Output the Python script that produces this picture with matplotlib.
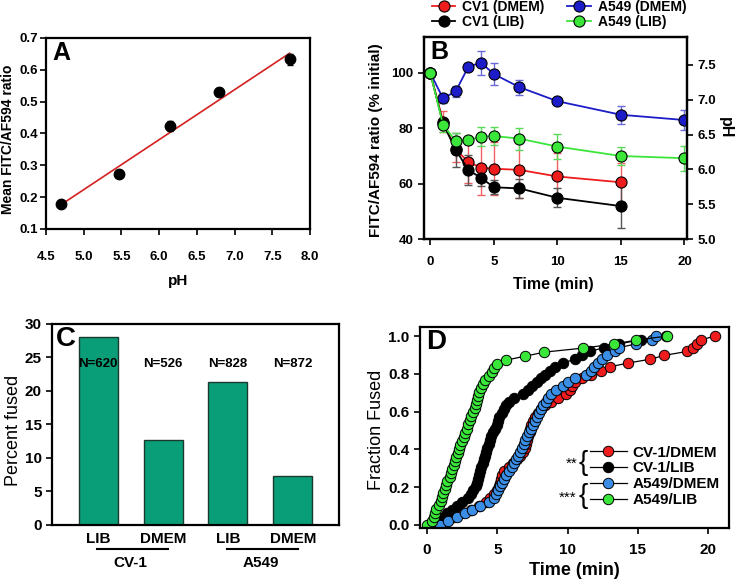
import numpy as np
import matplotlib
matplotlib.use('Agg')
import matplotlib.pyplot as plt
from matplotlib.lines import Line2D
import matplotlib.transforms as mtransforms

plt.rcParams['font.family'] = ['Liberation Sans', 'DejaVu Sans']
plt.rcParams['font.weight'] = 'bold'
plt.rcParams['axes.linewidth'] = 1.6
plt.rcParams['xtick.direction'] = 'out'
plt.rcParams['ytick.direction'] = 'out'

# ---- Panel A: pH calibration
ph_cal = [4.70, 5.47, 6.15, 6.80, 7.73]
ratio_cal = [0.178, 0.272, 0.423, 0.530, 0.633]
ratio_err = [0.006, 0.006, 0.016, 0.013, 0.018]

# ---- Panel B: ratio over time
time_b = [0, 1, 2, 3, 4, 5, 7, 10, 15, 20]
cv1_dmem = [100, 82.4, 72.4, 67.8, 65.8, 65.4, 65.0, 62.6, 60.5]
cv1_dmem_err = [0, 3.8, 4.5, 7.5, 10.0, 9.5, 10.0, 8.5, 7.0]
cv1_lib = [100, 81.8, 72.2, 64.9, 62.1, 58.7, 58.3, 54.9, 51.9]
cv1_lib_err = [0, 1.5, 6.0, 5.5, 3.0, 2.5, 3.5, 3.5, 8.0]
a549_dmem = [100, 90.8, 93.4, 102.3, 103.7, 99.6, 94.9, 89.8, 84.9, 83.0]
a549_dmem_err = [0, 1.6, 2.0, 1.0, 4.4, 3.9, 2.7, 0.5, 3.2, 3.5]
a549_lib = [100, 81.3, 75.4, 75.7, 77.0, 77.2, 76.3, 73.4, 70.0, 69.2]
a549_lib_err = [0, 2.5, 3.0, 1.0, 3.5, 3.4, 4.0, 4.6, 3.4, 4.5]

# ---- Panel C: percent fused
groups_c = ['LIB', 'DMEM', 'LIB', 'DMEM']
fused_pct = [28.0, 12.7, 21.3, 7.3]
n_cells = ['N=620', 'N=526', 'N=828', 'N=872']
cell_lines = ['CV-1', 'A549']

# ---- Panel D: fusion times (min), cumulative
t_cv1_dmem = [1.0, 1.4, 1.9, 2.4, 3.1, 3.7, 4.2, 4.5, 4.8, 5.0,
              5.1, 5.2, 5.25, 5.3, 5.5, 5.85, 6.15, 6.4, 6.6, 6.8,
              6.95, 7.05, 7.15, 7.22, 7.3, 7.35, 7.42, 7.55, 7.7, 7.9,
              8.1, 8.4, 8.8, 9.3, 9.9, 10.2, 10.35, 10.5, 11.0, 11.7,
              12.4, 13.0, 14.3, 15.9, 16.9, 18.5, 18.9, 19.2, 19.5, 20.5]
t_cv1_lib = [0.75, 1.0, 1.2, 1.45, 1.8, 2.1, 2.5, 2.9, 3.1, 3.3,
             3.45, 3.55, 3.65, 3.72, 3.8, 3.87, 3.95, 4.05, 4.12, 4.2,
             4.3, 4.4, 4.5, 4.58, 4.7, 4.85, 4.95, 5.05, 5.15, 5.3,
             5.45, 5.6, 5.85, 6.2, 6.8, 7.2, 7.5, 7.8, 8.1, 8.4,
             8.75, 9.1, 9.7, 10.5, 11.0, 11.6, 12.6, 13.7, 15.2, 17.0]
t_a549_dmem = [0.95, 1.5, 2.1, 2.7, 3.2, 3.8, 4.4, 4.75, 4.9, 5.05,
               5.2, 5.35, 5.5, 5.65, 5.85, 6.05, 6.2, 6.35, 6.5, 6.6,
               6.75, 6.9, 7.0, 7.1, 7.25, 7.4, 7.55, 7.65, 7.8, 7.95,
               8.1, 8.25, 8.45, 8.6, 8.8, 9.2, 9.7, 10.0, 10.5, 11.3,
               11.7, 11.9, 12.2, 12.45, 12.8, 13.4, 13.7, 14.9, 16.0, 16.3]
t_a549_lib = [0.0, 0.35, 0.5, 0.55, 0.65, 0.85, 0.98, 1.08, 1.15, 1.25,
              1.33, 1.45, 1.6, 1.72, 1.8, 1.9, 1.97, 2.08, 2.2, 2.28,
              2.38, 2.5, 2.6, 2.7, 2.82, 2.95, 3.07, 3.15, 3.25, 3.38,
              3.45, 3.55, 3.65, 3.72, 3.85, 4.0, 4.15, 4.4, 4.6, 4.8,
              4.95, 5.6, 7.0, 8.35, 11.1, 13.3, 14.9, 17.1]

RED = '#ee1c1c'
BLUE = '#1c1cc8'
GREEN = '#3ae63a'
LBLUE = '#3a8ee6'
TEAL = '#0a9e78'

fig = plt.figure(figsize=(7.45, 5.81), dpi=100)
axA = fig.add_axes([0.0617, 0.6059, 0.3544, 0.3287])
axB = fig.add_axes([0.5691, 0.5886, 0.3530, 0.3477])
axC = fig.add_axes([0.0698, 0.0964, 0.3852, 0.3460])
axD = fig.add_axes([0.5638, 0.0912, 0.4148, 0.3460])

tick_fs = 9.5

# Panel A
fit = np.polyfit(ph_cal, ratio_cal, 1)
xfit = np.array([min(ph_cal), max(ph_cal)])
axA.plot(xfit, np.polyval(fit, xfit), color='#d42020', lw=1.2, zorder=2)
axA.errorbar(ph_cal, ratio_cal, yerr=ratio_err, fmt='o', color='black',
             ms=7.5, capsize=2.5, elinewidth=0.8, zorder=3)
axA.set_xlim(4.5, 8.0)
axA.set_ylim(0.1, 0.7)
axA.set_xticks(np.arange(4.5, 8.01, 0.5))
axA.set_yticks(np.arange(0.1, 0.71, 0.1))
axA.set_xticklabels(['%.1f' % v for v in np.arange(4.5, 8.01, 0.5)])
axA.set_yticklabels(['%.1f' % v for v in np.arange(0.1, 0.71, 0.1)])
axA.tick_params(labelsize=tick_fs, length=4, width=1.2)
axA.tick_params(axis='y', pad=2)
axA.tick_params(axis='x', pad=12)
axA.set_xlabel('pH', fontsize=11, fontweight='bold')
axA.xaxis.set_label_coords(0.5, -0.236)
axA.set_ylabel('Mean FITC/AF594 ratio', fontsize=10, fontweight='bold')
axA.yaxis.set_label_coords(-0.118, 0.47)
axA.text(0.025, 0.985, 'A', transform=axA.transAxes, fontsize=18,
         fontweight='bold', va='top', ha='left')

# Panel B
series_b = [
    ('CV1 (DMEM)', cv1_dmem, cv1_dmem_err, RED, '#f06060'),
    ('CV1 (LIB)', cv1_lib, cv1_lib_err, 'black', '#555555'),
    ('A549 (DMEM)', a549_dmem, a549_dmem_err, BLUE, '#6a6ad8'),
    ('A549 (LIB)', a549_lib, a549_lib_err, GREEN, '#5ad85a'),
]
draw_order = [3, 0, 1, 2]
handles_b = {}
for k in draw_order:
    label, vals, errs, col, ecol = series_b[k]
    tt = time_b[:len(vals)]
    axB.errorbar(tt, vals, yerr=errs, fmt='none', ecolor=ecol, elinewidth=1.0,
                 capsize=3, capthick=1.0, zorder=2 + k * 0.1)
    ln, = axB.plot(tt, vals, '-o', color=col, mfc=col, mec='black', mew=0.8,
                   ms=8, lw=1.3, zorder=3 + k * 0.1, label=label)
    handles_b[k] = ln
axB.set_xlim(-0.5, 20.2)
axB.set_ylim(40, 113)
axB.set_xticks([0, 5, 10, 15, 20])
axB.set_yticks([40, 60, 80, 100])
axB.tick_params(labelsize=tick_fs, length=4, width=1.2)
axB.tick_params(axis='x', pad=8)
axB.set_xlabel('Time (min)', fontsize=11.5, fontweight='bold')
axB.xaxis.set_label_coords(0.49, -0.188)
axB.set_ylabel('FITC/AF594 ratio (% initial)', fontsize=11, fontweight='bold')
axB.yaxis.set_label_coords(-0.155, 0.49)
axB2 = axB.twinx()
axB2.set_ylim(5.0, 7.9)
axB2.set_yticks([5.0, 5.5, 6.0, 6.5, 7.0, 7.5])
axB2.set_yticklabels(['5.0', '5.5', '6.0', '6.5', '7.0', '7.5'])
axB2.tick_params(labelsize=tick_fs, length=4, width=1.2)
axB2.set_ylabel('pH', fontsize=11.5, fontweight='bold', rotation=270)
axB2.yaxis.set_label_coords(1.175, 0.55)
axB.text(0.025, 0.985, 'B', transform=axB.transAxes, fontsize=18,
         fontweight='bold', va='top', ha='left')
axB.legend([handles_b[i] for i in range(4)], [s[0] for s in series_b],
           ncol=2, loc='lower left', bbox_to_anchor=(0.03, 1.04),
           frameon=False, fontsize=10, handlelength=1.7, handletextpad=0.5,
           columnspacing=1.6, labelspacing=0.05, borderaxespad=0, borderpad=0)

# Panel C
xc = np.arange(len(fused_pct))
axC.bar(xc, fused_pct, width=0.6, color=TEAL, edgecolor='#1a3a30', linewidth=1.0)
axC.set_xlim(-0.71, 3.71)
axC.set_ylim(0, 30)
axC.set_xticks(xc)
axC.set_xticklabels(groups_c)
axC.set_yticks(range(0, 31, 5))
axC.tick_params(axis='y', labelsize=11, length=4, width=1.2)
axC.tick_params(axis='x', labelsize=11, length=0, pad=5)
axC.set_ylabel('Percent fused', fontsize=13, fontweight='normal')
axC.yaxis.set_label_coords(-0.105, 0.47)
for xi, lab in zip(xc, n_cells):
    axC.text(xi, 24.0, lab, ha='center', va='center', fontsize=9.5,
             fontweight='bold')
trans_c = mtransforms.blended_transform_factory(axC.transData, axC.transAxes)
for gi, name in enumerate(cell_lines):
    x0 = 2 * gi
    axC.add_line(Line2D([x0 - 0.02, x0 + 1.08], [-0.118, -0.118], color='black',
                        lw=1.5, transform=trans_c, clip_on=False))
    axC.text(x0 + 0.5, -0.19, name, transform=trans_c, ha='center', va='center',
             fontsize=11, fontweight='bold')
axC.text(0.015, 0.99, 'C', transform=axC.transAxes, fontsize=20,
         fontweight='bold', va='top', ha='left')

# Panel D
series_d = [
    ('CV-1/DMEM', t_cv1_dmem, RED),
    ('CV-1/LIB', t_cv1_lib, 'black'),
    ('A549/DMEM', t_a549_dmem, LBLUE),
    ('A549/LIB', t_a549_lib, GREEN),
]
handles_d = []
for label, times, col in series_d:
    tsorted = np.sort(times)
    frac = np.arange(len(tsorted)) / (len(tsorted) - 1)
    ln, = axD.plot(tsorted, frac, '-o', color='black', mfc=col, mec='black',
                   mew=0.7, ms=7.5, lw=0.9, label=label)
    handles_d.append(ln)
axD.set_xlim(-0.5, 21.5)
axD.set_ylim(-0.016, 1.048)
axD.set_xticks([0, 5, 10, 15, 20])
axD.set_yticks([0.0, 0.2, 0.4, 0.6, 0.8, 1.0])
axD.set_yticklabels(['0.0', '0.2', '0.4', '0.6', '0.8', '1.0'])
axD.tick_params(labelsize=11, length=4, width=1.2)
axD.tick_params(axis='x', pad=7)
axD.set_xlabel('Time (min)', fontsize=13, fontweight='bold')
axD.xaxis.set_label_coords(0.5, -0.17)
axD.set_ylabel('Fraction Fused', fontsize=13, fontweight='normal')
axD.yaxis.set_label_coords(-0.113, 0.49)
axD.legend(handles_d, [s[0] for s in series_d], loc='upper left',
           bbox_to_anchor=(0.55, 0.41), frameon=False, fontsize=11,
           handlelength=2.4, handletextpad=0.4, labelspacing=0.12,
           borderaxespad=0, borderpad=0)
axD.text(0.49, 0.32, '**', transform=axD.transAxes, fontsize=11,
         fontweight='normal', ha='center', va='center')
axD.text(0.527, 0.325, '{', transform=axD.transAxes, fontsize=20,
         fontweight='normal', ha='center', va='center')
axD.text(0.478, 0.152, '***', transform=axD.transAxes, fontsize=11,
         fontweight='normal', ha='center', va='center')
axD.text(0.527, 0.158, '{', transform=axD.transAxes, fontsize=20,
         fontweight='normal', ha='center', va='center')
axD.text(0.02, 0.99, 'D', transform=axD.transAxes, fontsize=20,
         fontweight='bold', va='top', ha='left')

fig.savefig('out.png', dpi=100)
